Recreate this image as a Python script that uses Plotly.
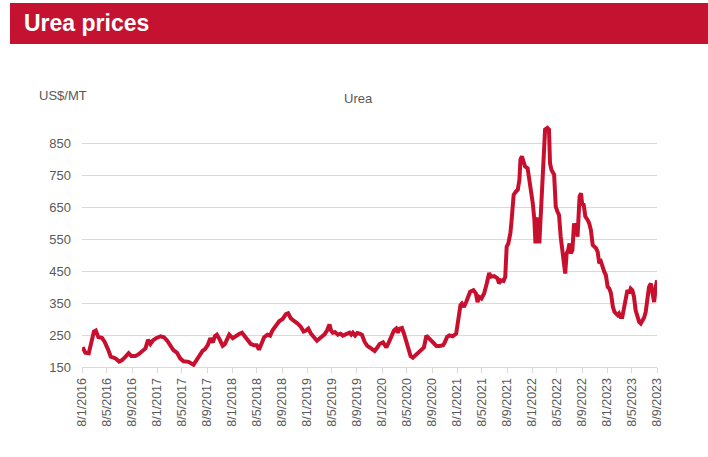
import plotly.graph_objects as go

# ---- data ----
dates = [
    "2016-01-11", "2016-01-24", "2016-02-10", "2016-02-23", "2016-03-06", "2016-03-15", "2016-03-28",
    "2016-04-14", "2016-04-27", "2016-05-13", "2016-05-27", "2016-06-10", "2016-06-21", "2016-07-07",
    "2016-07-20", "2016-08-05", "2016-08-22", "2016-09-04", "2016-09-24", "2016-10-10", "2016-10-26",
    "2016-11-12", "2016-11-25", "2016-12-06", "2016-12-17", "2017-01-03", "2017-01-24", "2017-02-10",
    "2017-02-26", "2017-03-12", "2017-03-28", "2017-04-14", "2017-04-30", "2017-05-16", "2017-06-10",
    "2017-07-04", "2017-07-22", "2017-08-06", "2017-08-17", "2017-08-29", "2017-09-11", "2017-09-24",
    "2017-10-06", "2017-10-16", "2017-10-26", "2017-11-07", "2017-11-23", "2017-12-04", "2017-12-17",
    "2017-12-25", "2018-01-11", "2018-01-27", "2018-02-13", "2018-02-25", "2018-03-07", "2018-03-23",
    "2018-04-09", "2018-04-25", "2018-05-08", "2018-05-19", "2018-05-31", "2018-06-13", "2018-06-29",
    "2018-07-12", "2018-07-23", "2018-08-09", "2018-08-25", "2018-09-11", "2018-09-27", "2018-10-08",
    "2018-10-21", "2018-11-07", "2018-11-23", "2018-12-09", "2018-12-22", "2019-01-03", "2019-01-14",
    "2019-01-27", "2019-02-13", "2019-02-25", "2019-03-17", "2019-04-02", "2019-04-15", "2019-04-27",
    "2019-05-05", "2019-05-13", "2019-05-24", "2019-06-07", "2019-06-20", "2019-07-01", "2019-07-12",
    "2019-07-25", "2019-08-03", "2019-08-11", "2019-08-19", "2019-08-30", "2019-09-09", "2019-09-21",
    "2019-10-02", "2019-10-15", "2019-10-28", "2019-11-09", "2019-11-20", "2019-12-03", "2019-12-16",
    "2019-12-27", "2020-01-13", "2020-01-29", "2020-02-10", "2020-02-22", "2020-03-06", "2020-03-17",
    "2020-03-25", "2020-04-03", "2020-04-14", "2020-04-24", "2020-05-05", "2020-05-16", "2020-05-26",
    "2020-06-06", "2020-06-18", "2020-07-01", "2020-07-17", "2020-07-30", "2020-08-11", "2020-08-19",
    "2020-09-01", "2020-09-13", "2020-09-29", "2020-10-15", "2020-10-31", "2020-11-07", "2020-11-20",
    "2020-12-01", "2020-12-17", "2021-01-03", "2021-01-14", "2021-01-24", "2021-01-31", "2021-02-10",
    "2021-02-21", "2021-03-05", "2021-03-12", "2021-03-28", "2021-04-09", "2021-04-17", "2021-04-25",
    "2021-05-06", "2021-05-19", "2021-06-01", "2021-06-13", "2021-06-21", "2021-07-07", "2021-07-23",
    "2021-07-31", "2021-08-09", "2021-08-22", "2021-08-30", "2021-09-06", "2021-09-14", "2021-09-24",
    "2021-09-30", "2021-10-10", "2021-10-21", "2021-10-30", "2021-11-07", "2021-11-12", "2021-11-19",
    "2021-11-28", "2021-12-04", "2021-12-17", "2021-12-25", "2022-01-02", "2022-01-11", "2022-01-19",
    "2022-01-24", "2022-01-29", "2022-02-05", "2022-02-12", "2022-02-18", "2022-02-25", "2022-03-06",
    "2022-03-10", "2022-03-12", "2022-03-23", "2022-03-31", "2022-04-05", "2022-04-12", "2022-04-25",
    "2022-05-03", "2022-05-11", "2022-05-19", "2022-05-27", "2022-06-05", "2022-06-13", "2022-06-18",
    "2022-06-25", "2022-07-02", "2022-07-09", "2022-07-15", "2022-07-23", "2022-07-31", "2022-08-05",
    "2022-08-12", "2022-08-17", "2022-08-22", "2022-08-27", "2022-09-03", "2022-09-08", "2022-09-16",
    "2022-09-24", "2022-10-06", "2022-10-13", "2022-10-21", "2022-10-30", "2022-11-07", "2022-11-15",
    "2022-11-23", "2022-12-01", "2022-12-09", "2022-12-17", "2022-12-25", "2023-01-02", "2023-01-11",
    "2023-01-19", "2023-01-27", "2023-02-05", "2023-02-13", "2023-02-21", "2023-03-01", "2023-03-07",
    "2023-03-15", "2023-03-23", "2023-03-31", "2023-04-09", "2023-04-17", "2023-04-25", "2023-05-03",
    "2023-05-11", "2023-05-19", "2023-05-27", "2023-06-05", "2023-06-13", "2023-06-21", "2023-06-29",
    "2023-07-07", "2023-07-15", "2023-07-23", "2023-07-31", "2023-08-09", "2023-08-17", "2023-08-25",
    "2023-09-02", "2023-09-08",
]
urea = [
    212, 195, 193, 227, 261, 264, 243,
    241, 229, 206, 182, 179, 176, 167,
    171, 181, 193, 184, 184, 190, 200,
    208, 235, 222, 232, 240, 246, 243,
    232, 216, 203, 195, 177, 168, 166,
    157, 176, 193, 200, 206, 218, 240,
    227, 246, 251, 238, 216, 222, 243,
    251, 240, 248, 254, 257, 248, 238,
    222, 218, 218, 204, 227, 243, 251,
    248, 264, 281, 293, 300, 315, 318,
    302, 293, 286, 275, 261, 264, 270,
    254, 240, 232, 243, 251, 264, 283,
    264, 257, 259, 251, 254, 248, 251,
    254, 257, 251, 257, 248, 256, 254,
    251, 229, 216, 211, 206, 200, 211,
    222, 227, 211, 227, 248, 264, 270,
    257, 270, 272, 254, 233, 206, 184,
    179, 186, 195, 204, 211, 248, 243,
    232, 224, 216, 216, 218, 225, 244,
    249, 246, 254, 296, 343, 348, 338,
    353, 369, 385, 390, 380, 353, 369,
    364, 380, 411, 444, 432, 434, 427,
    411, 421, 419, 432, 526, 536, 568,
    609, 688, 698, 704, 735, 798, 808,
    792, 777, 771, 740, 704, 662, 609,
    536, 609, 615, 536, 609, 651, 766,
    860, 892, 897, 892, 787, 766, 751,
    651, 636, 625, 557, 505, 453, 442,
    505, 515, 536, 505, 515, 599, 568,
    599, 557, 609, 683, 693, 662, 657,
    620, 609, 599, 578, 531, 526, 521,
    510, 474, 479, 458, 448, 437, 400,
    395, 380, 338, 322, 317, 312, 317,
    306, 306, 338, 369, 390, 380, 395,
    390, 369, 327, 301, 291, 286, 296,
    304, 322, 359, 400, 411, 380, 353,
    400, 421,
]

tick_dates = [f"{y}-{m:02d}-08" for y in range(2016, 2024) for m in (1, 5, 9)]
tick_text = [f"8/{m}/{y}" for y in range(2016, 2024) for m in (1, 5, 9)]
y_ticks = [150, 250, 350, 450, 550, 650, 750, 850]

RED = "#C8102E"
GREY_TXT = "#595959"
GRID = "#D9D9D9"
FONT = "Liberation Sans, Arial, sans-serif"

fig = go.Figure()
fig.add_trace(go.Scatter(
    x=dates, y=urea, mode="lines",
    line=dict(color=RED, width=4),
    showlegend=False, hoverinfo="skip",
))

# plot area in pixels: x 82..657, y 111..367
L, R, T, B = 82, 51, 111, 90
W, H = 708 - L - R, 457 - T - B

def px(x):
    return (x - L) / W

def py(y):
    return (457 - B - y) / H

fig.update_layout(
    width=708, height=457,
    margin=dict(l=L, r=R, t=T, b=B, autoexpand=False),
    paper_bgcolor="white", plot_bgcolor="white",
    font=dict(family=FONT, color=GREY_TXT, size=13),
    xaxis=dict(
        type="date",
        range=["2016-01-08", "2023-09-08"],
        tickvals=tick_dates, ticktext=tick_text,
        tickangle=-90,
        showgrid=False, zeroline=False,
        showline=True, linecolor=GRID, linewidth=1,
        ticks="outside", ticklen=5, tickcolor=GRID,
        tickfont=dict(size=12.5, color=GREY_TXT, family=FONT),
    ),
    yaxis=dict(
        range=[150, 950],
        tickvals=y_ticks,
        showgrid=True, gridcolor=GRID, gridwidth=1,
        zeroline=False, showline=False, ticks="",
        ticklabelstandoff=10,
        tickfont=dict(size=13, color=GREY_TXT, family=FONT),
    ),
    shapes=[dict(
        type="rect", xref="paper", yref="paper",
        x0=px(10), x1=px(708), y0=py(44), y1=py(3),
        fillcolor="#C41230", line=dict(width=0), layer="above",
    )],
    annotations=[
        dict(text="<b>Urea prices</b>", xref="paper", yref="paper",
             x=px(22), y=py(23), xanchor="left", yanchor="middle",
             showarrow=False, font=dict(size=23, color="white", family=FONT)),
        dict(text="US$/MT", xref="paper", yref="paper",
             x=px(37), y=py(95), xanchor="left", yanchor="middle",
             showarrow=False, font=dict(size=13, color=GREY_TXT, family=FONT)),
        dict(text="Urea", xref="paper", yref="paper",
             x=px(358), y=py(98), xanchor="center", yanchor="middle",
             showarrow=False, font=dict(size=13, color=GREY_TXT, family=FONT)),
    ],
)

fig.write_html(
    "out.html",
    config={"displayModeBar": False, "staticPlot": True},
    post_script="document.body.style.margin='0';document.body.style.overflow='hidden';",
)
